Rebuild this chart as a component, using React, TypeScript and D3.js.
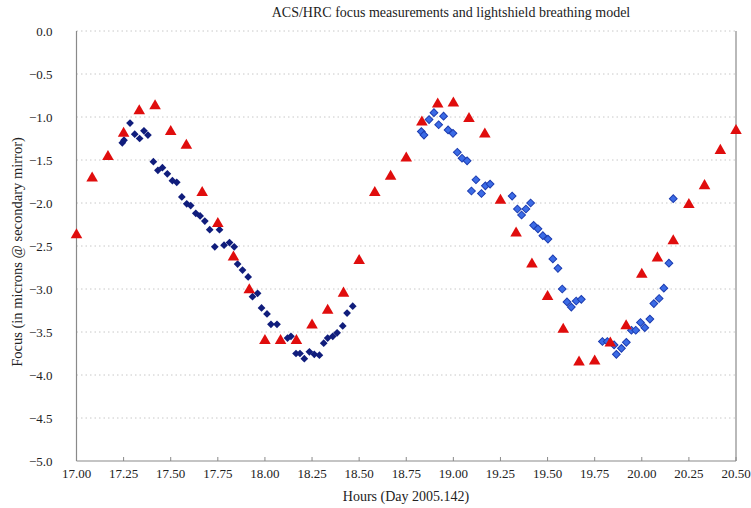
import { useEffect, useRef } from "react";
import * as d3 from "d3";

// model (red triangles), every 5 minutes
const modelHours = [
  17.0, 17.083, 17.167, 17.25, 17.333, 17.417, 17.5, 17.583, 17.667, 17.75, 17.833, 17.917,
  18.0, 18.083, 18.167, 18.25, 18.333, 18.417, 18.5, 18.583, 18.667, 18.75, 18.833, 18.917,
  19.0, 19.083, 19.167, 19.25, 19.333, 19.417, 19.5, 19.583, 19.667, 19.75, 19.833, 19.917,
  20.0, 20.083, 20.167, 20.25, 20.333, 20.417, 20.5,
];
const modelFocus = [
  -2.37, -1.71, -1.46, -1.19, -0.93, -0.87, -1.17, -1.33, -1.88, -2.24, -2.63, -3.01,
  -3.6, -3.6, -3.6, -3.42, -3.25, -3.05, -2.67, -1.88, -1.69, -1.48, -1.06, -0.85,
  -0.84, -1.02, -1.2, -1.97, -2.35, -2.71, -3.09, -3.47, -3.85, -3.84, -3.63, -3.43,
  -2.83, -2.64, -2.44, -2.02, -1.8, -1.39, -1.16,
];

// first visit measurements (dark diamonds)
const visit1Hours = [
  17.243, 17.252, 17.284, 17.309, 17.335, 17.358, 17.379, 17.408, 17.432, 17.456, 17.482, 17.509,
  17.532, 17.559, 17.585, 17.606, 17.633, 17.656, 17.681, 17.707, 17.734, 17.759, 17.783, 17.812,
  17.837, 17.855, 17.881, 17.911, 17.934, 17.961, 17.982, 18.011, 18.032, 18.064, 18.12, 18.138,
  18.165, 18.186, 18.209, 18.236, 18.262, 18.289, 18.312, 18.333, 18.36, 18.383, 18.413, 18.436,
  18.466,
];
const visit1Focus = [
  -1.3, -1.27, -1.07, -1.2, -1.25, -1.16, -1.21, -1.52, -1.62, -1.59, -1.66, -1.74,
  -1.76, -1.93, -2.01, -2.03, -2.12, -2.15, -2.21, -2.31, -2.51, -2.31, -2.49, -2.46,
  -2.51, -2.71, -2.78, -2.86, -3.09, -3.05, -3.22, -3.29, -3.41, -3.41, -3.57, -3.55,
  -3.75, -3.75, -3.81, -3.73, -3.76, -3.77, -3.63, -3.57, -3.55, -3.51, -3.43, -3.28,
  -3.2,
];

// second visit measurements (blue diamonds)
const visit2Hours = [
  18.83, 18.844, 18.871, 18.897, 18.922, 18.948, 18.972, 18.998, 19.021, 19.046, 19.073, 19.096,
  19.12, 19.149, 19.17, 19.195, 19.312, 19.34, 19.362, 19.385, 19.41, 19.426, 19.449, 19.475,
  19.502, 19.528, 19.555, 19.578, 19.603, 19.626, 19.652, 19.679, 19.791, 19.817, 19.853, 19.865,
  19.892, 19.918, 19.945, 19.968, 19.993, 20.016, 20.043, 20.064, 20.092, 20.117, 20.144, 20.167,
];
const visit2Focus = [
  -1.17, -1.21, -1.03, -0.95, -1.09, -0.99, -1.15, -1.19, -1.41, -1.48, -1.51, -1.86,
  -1.73, -1.89, -1.8, -1.78, -1.92, -2.07, -2.14, -2.07, -2.0, -2.26, -2.3, -2.38,
  -2.42, -2.65, -2.76, -3.0, -3.15, -3.21, -3.14, -3.12, -3.61, -3.61, -3.65, -3.76,
  -3.69, -3.62, -3.48, -3.48, -3.39, -3.45, -3.35, -3.17, -3.11, -2.99, -2.7, -1.95,
];

const xTicks = [17, 17.25, 17.5, 17.75, 18, 18.25, 18.5, 18.75, 19, 19.25, 19.5, 19.75, 20, 20.25, 20.5];
const yTicks = [0, -0.5, -1, -1.5, -2, -2.5, -3, -3.5, -4, -4.5, -5];

const W = 751;
const H = 508;
const margin = { top: 31, right: 15, bottom: 47, left: 76.5 };
const font = "'Liberation Serif', 'DejaVu Serif', serif";

export default function App() {
  const svgRef = useRef<SVGSVGElement>(null);

  useEffect(() => {
    if (!svgRef.current) return;
    const svg = d3.select(svgRef.current);
    svg.selectAll("*").remove();

    const x = d3.scaleLinear().domain([17, 20.5]).range([margin.left, W - margin.right]);
    const y = d3.scaleLinear().domain([-5, 0]).range([H - margin.bottom, margin.top]);

    // dotted grid
    svg
      .append("g")
      .selectAll("line")
      .data(yTicks.filter((t) => t !== -5))
      .enter()
      .append("line")
      .attr("x1", x(17))
      .attr("x2", x(20.5))
      .attr("y1", (d) => y(d))
      .attr("y2", (d) => y(d))
      .attr("stroke", "#c8c8c8")
      .attr("stroke-width", 1)
      .attr("stroke-dasharray", "1.5,3");

    // frame: left, bottom, right
    const frame = svg.append("g").attr("stroke", "#8a8a8a").attr("stroke-width", 1.2);
    frame.append("line").attr("x1", x(17)).attr("x2", x(17)).attr("y1", y(0)).attr("y2", y(-5));
    frame.append("line").attr("x1", x(17)).attr("x2", x(20.5)).attr("y1", y(-5)).attr("y2", y(-5));
    frame.append("line").attr("x1", x(20.5)).attr("x2", x(20.5)).attr("y1", y(0)).attr("y2", y(-5));

    // x ticks
    svg
      .append("g")
      .selectAll("line")
      .data(xTicks)
      .enter()
      .append("line")
      .attr("x1", (d) => x(d))
      .attr("x2", (d) => x(d))
      .attr("y1", y(-5))
      .attr("y2", y(-5) - 4)
      .attr("stroke", "#8a8a8a");

    svg
      .append("g")
      .selectAll("text")
      .data(xTicks)
      .enter()
      .append("text")
      .attr("x", (d) => x(d))
      .attr("y", y(-5) + 17)
      .attr("text-anchor", "middle")
      .attr("font-family", font)
      .attr("font-size", 13)
      .attr("fill", "#222")
      .text((d) => d3.format(".2f")(d));

    svg
      .append("g")
      .selectAll("text")
      .data(yTicks)
      .enter()
      .append("text")
      .attr("x", x(17) - 24)
      .attr("y", (d) => y(d) + 4.5)
      .attr("text-anchor", "end")
      .attr("font-family", font)
      .attr("font-size", 13)
      .attr("fill", "#222")
      .text((d) => (d < 0 ? "\u2212" + d3.format(".1f")(-d) : d3.format(".1f")(d)));

    // titles
    svg
      .append("text")
      .attr("x", 451)
      .attr("y", 17)
      .attr("text-anchor", "middle")
      .attr("font-family", font)
      .attr("font-size", 14)
      .attr("fill", "#222")
      .text("ACS/HRC focus measurements and lightshield breathing model");

    svg
      .append("text")
      .attr("x", 406)
      .attr("y", 501)
      .attr("text-anchor", "middle")
      .attr("font-family", font)
      .attr("font-size", 14)
      .attr("fill", "#222")
      .text("Hours (Day 2005.142)");

    svg
      .append("text")
      .attr("transform", `translate(22,252) rotate(-90)`)
      .attr("text-anchor", "middle")
      .attr("font-family", font)
      .attr("font-size", 14.5)
      .attr("fill", "#222")
      .text("Focus (in microns @ secondary mirror)");

    // measurements
    const diamond = d3.symbol().type(d3.symbolSquare).size(30)();
    const v1 = visit1Hours.map((h, i) => [h, visit1Focus[i]]);
    svg
      .append("g")
      .selectAll("path")
      .data(v1)
      .enter()
      .append("path")
      .attr("d", diamond)
      .attr("transform", (d) => `translate(${x(d[0])},${y(d[1])}) rotate(45)`)
      .attr("fill", "#101d7c");

    const v2 = visit2Hours.map((h, i) => [h, visit2Focus[i]]);
    svg
      .append("g")
      .selectAll("path")
      .data(v2)
      .enter()
      .append("path")
      .attr("d", diamond)
      .attr("transform", (d) => `translate(${x(d[0])},${y(d[1])}) rotate(45)`)
      .attr("fill", "#3b6be6")
      .attr("stroke", "#1c3cb0")
      .attr("stroke-width", 1);

    // model
    const tri = d3.symbol().type(d3.symbolTriangle).size(58)();
    const model = modelHours.map((h, i) => [h, modelFocus[i]]);
    svg
      .append("g")
      .selectAll("path")
      .data(model)
      .enter()
      .append("path")
      .attr("d", tri)
      .attr("transform", (d) => `translate(${x(d[0])},${y(d[1])})`)
      .attr("fill", "#e00d0d");
  }, []);

  return (
    <svg
      ref={svgRef}
      width={W}
      height={H}
      style={{ position: "absolute", left: 0, top: 0, background: "#fff" }}
    />
  );
}
